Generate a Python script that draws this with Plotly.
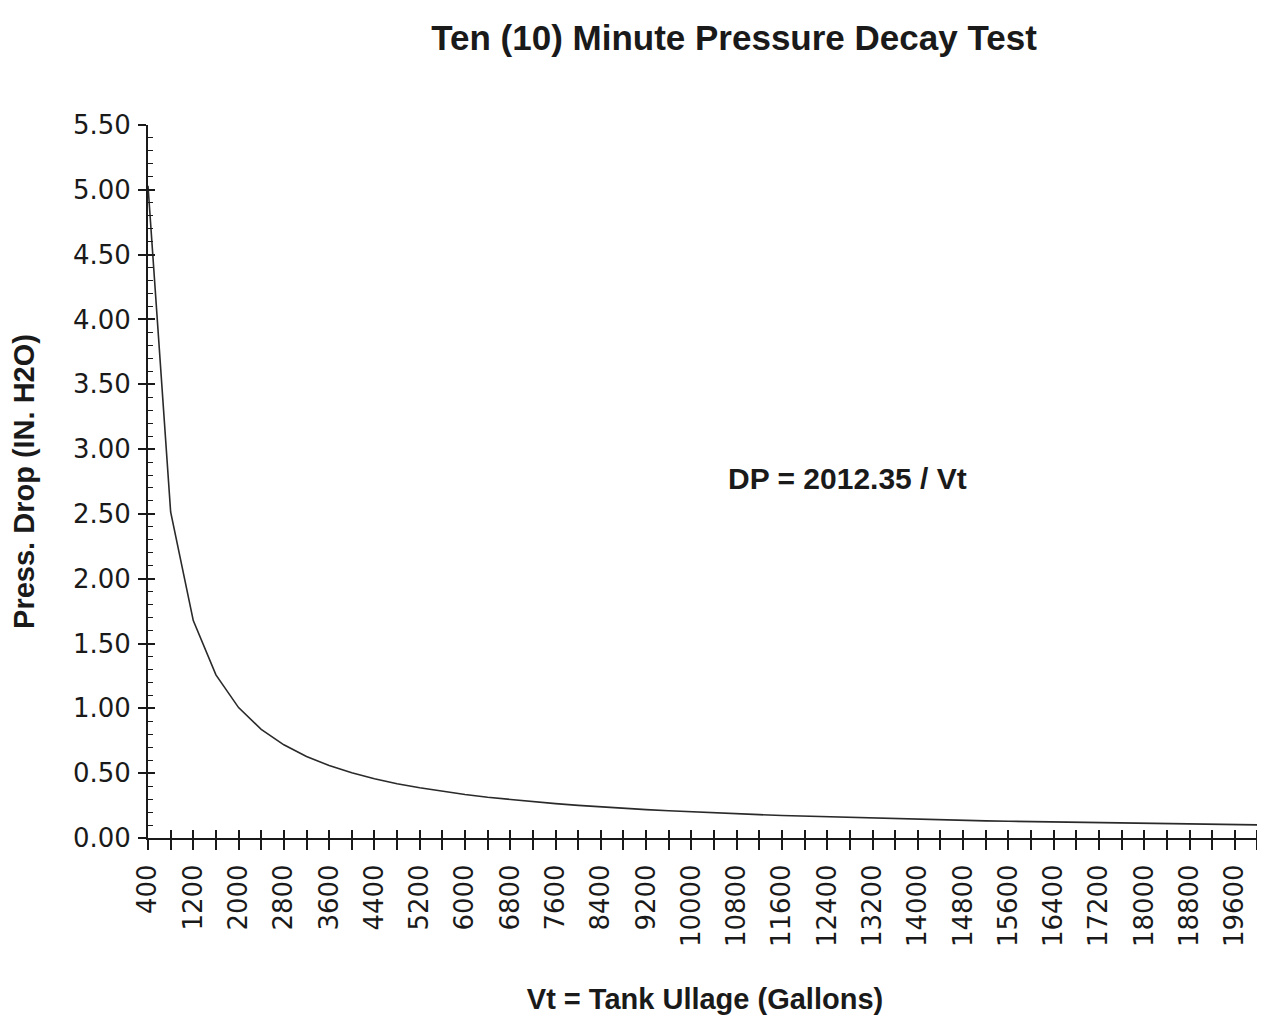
import plotly.graph_objects as go

# ---- data (DP = 2012.35 / Vt) ----
vt_gallons = [400, 800, 1200, 1600, 2000, 2400, 2800, 3200, 3600, 4000,
              4400, 4800, 5200, 5600, 6000, 6400, 6800, 7200, 7600, 8000,
              8400, 8800, 9200, 9600, 10000, 10400, 10800, 11200, 11600, 12000,
              12400, 12800, 13200, 13600, 14000, 14400, 14800, 15200, 15600, 16000,
              16400, 16800, 17200, 17600, 18000, 18400, 18800, 19200, 19600, 20000]
press_drop = [5.031, 2.515, 1.677, 1.258, 1.006, 0.838, 0.719, 0.629, 0.559, 0.503,
              0.457, 0.419, 0.387, 0.359, 0.335, 0.314, 0.296, 0.279, 0.265, 0.252,
              0.240, 0.229, 0.219, 0.210, 0.201, 0.193, 0.186, 0.180, 0.173, 0.168,
              0.162, 0.157, 0.152, 0.148, 0.144, 0.140, 0.136, 0.132, 0.129, 0.126,
              0.123, 0.120, 0.117, 0.114, 0.112, 0.109, 0.107, 0.105, 0.103, 0.101]

x_tick_labels = ["400", "1200", "2000", "2800", "3600", "4400", "5200", "6000",
                 "6800", "7600", "8400", "9200", "10000", "10800", "11600", "12400",
                 "13200", "14000", "14800", "15600", "16400", "17200", "18000",
                 "18800", "19600"]
y_tick_labels = ["0.00", "0.50", "1.00", "1.50", "2.00", "2.50", "3.00",
                 "3.50", "4.00", "4.50", "5.00", "5.50"]

title_text = "Ten (10) Minute Pressure Decay Test"
x_title = "Vt = Tank Ullage (Gallons)"
y_title = "Press. Drop (IN. H2O)"
formula_text = "DP = 2012.35 / Vt"

# ---- derived tick positions ----
x_tick_vals = [float(t) for t in x_tick_labels]
y_tick_vals = [float(t) for t in y_tick_labels]
x_all_ticks = []
for v in x_tick_vals:
    x_all_ticks += [v, v + 400]
x_all_text = []
for t in x_tick_labels:
    x_all_text += [t, ""]

INK = "#1a1a1a"
X_RANGE = [400, 20080]
Y_RANGE = [0, 5.5]

fig = go.Figure()
fig.add_trace(go.Scatter(
    x=vt_gallons, y=press_drop, mode="lines",
    line=dict(color="#2a2a2a", width=1.6), showlegend=False, hoverinfo="x+y"))
# invisible helper traces for the overlaid tick axes (crossing tick marks)
fig.add_trace(go.Scatter(x=[vt_gallons[0]], y=[press_drop[0]], xaxis="x2", yaxis="y",
                         mode="markers", marker=dict(opacity=0), showlegend=False,
                         hoverinfo="skip"))
fig.add_trace(go.Scatter(x=[vt_gallons[0]], y=[press_drop[0]], xaxis="x", yaxis="y2",
                         mode="markers", marker=dict(opacity=0), showlegend=False,
                         hoverinfo="skip"))

tick_font = dict(family="DejaVu Sans", size=26, color=INK)
bold_font = "Liberation Sans, Arial, sans-serif"

fig.update_layout(
    width=1265, height=1025,
    paper_bgcolor="white", plot_bgcolor="white",
    margin=dict(l=140, r=11, t=117, b=195, autoexpand=False),
    title=dict(text="<b>" + title_text + "</b>", x=726 / 1265, xanchor="center",
               y=1 - 30 / 1025, yanchor="middle", yref="container",
               font=dict(family=bold_font, size=35, color=INK)),
    xaxis=dict(range=X_RANGE, tickmode="array", tickvals=x_all_ticks, ticktext=x_all_text,
               tickangle=-90, ticks="outside", ticklen=10, tickwidth=1.6, tickcolor=INK,
               ticklabelstandoff=4, automargin=False,
               showline=True, linecolor=INK, linewidth=2, showgrid=False, zeroline=False,
               tickfont=tick_font,
               title=dict(text="<b>" + x_title + "</b>", standoff=43,
                          font=dict(family=bold_font, size=29, color=INK))),
    xaxis2=dict(range=X_RANGE, overlaying="x", anchor="y", side="bottom",
                tickmode="linear", tick0=400, dtick=400, ticks="inside", ticklen=8,
                tickwidth=1.6, tickcolor=INK, showticklabels=False, showline=False,
                showgrid=False, zeroline=False, automargin=False),
    yaxis=dict(range=Y_RANGE, tickmode="array", tickvals=y_tick_vals, ticktext=y_tick_labels,
               ticks="outside", ticklen=8, tickwidth=1.6, tickcolor=INK,
               ticklabelstandoff=2, automargin=False,
               showline=True, linecolor=INK, linewidth=1.8, showgrid=False, zeroline=False,
               tickfont=tick_font,
               title=dict(text="<b>" + y_title + "</b>", standoff=39,
                          font=dict(family=bold_font, size=29, color=INK))),
    yaxis2=dict(range=Y_RANGE, overlaying="y", anchor="x", side="left",
                tickmode="linear", tick0=0, dtick=0.5, ticks="inside", ticklen=7,
                tickwidth=1.6, tickcolor=INK, showticklabels=False, showline=False,
                showgrid=False, zeroline=False, automargin=False,
                minor=dict(ticks="inside", dtick=0.1, ticklen=5, tickwidth=1.3,
                           tickcolor=INK)),
    annotations=[dict(text="<b>" + formula_text + "</b>", x=12750, y=2.77,
                      xref="x", yref="y", showarrow=False, xanchor="center",
                      yanchor="middle",
                      font=dict(family=bold_font, size=30, color=INK))],
)

fig.write_html("out.html")
